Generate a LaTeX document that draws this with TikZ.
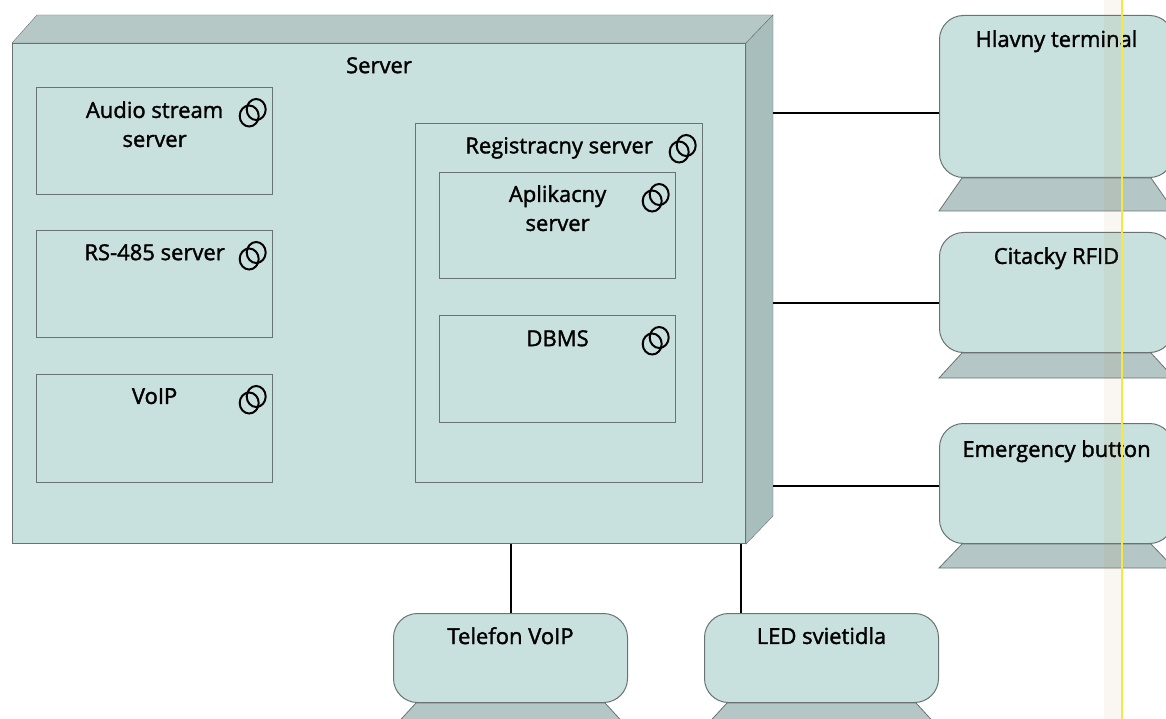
\documentclass[tikz,border=0pt]{standalone}
\usepackage{fontspec}
\setmainfont{Open Sans}[FakeBold=1.6]
\usetikzlibrary{positioning,calc}

\definecolor{facefill}{RGB}{200,225,222}
\definecolor{topfill}{RGB}{182,200,198}
\definecolor{sidefill}{RGB}{168,190,188}
\definecolor{basefill}{RGB}{180,198,197}
\definecolor{edgegray}{RGB}{105,115,115}
\definecolor{scanyellow}{RGB}{245,232,70}

\begin{document}
\begin{tikzpicture}[x=1pt,y=-1pt,font=\fontsize{22}{29}\selectfont,
    lbl/.style={inner sep=0pt,align=center},
    comp/.style={draw=edgegray,line width=1.2pt,minimum width=236pt,minimum height=107pt,anchor=north west,inner sep=0pt},
    device/.style={draw=edgegray,line width=1pt,fill=facefill,rounded corners=24pt,minimum width=234pt,anchor=north west,inner sep=0pt},
    stand/.style={draw=edgegray,line width=0.8pt,fill=basefill},
    ring/.style={line width=2pt},
    wire/.style={line width=2pt}]
    \fill[white] (0,0) rectangle (1166,719);
    \useasboundingbox (0,0) rectangle (1166,719);

    % server node with its 3d faces
    \node[draw=edgegray,line width=1pt,fill=facefill,minimum width=733pt,minimum height=500pt,anchor=north west,inner sep=0pt] (server) at (12,43) {};
    \filldraw[draw=edgegray,fill=topfill] (server.north west) -- ++(25,-28) -- ($(server.north east)+(27,-28)$) -- (server.north east) -- cycle;
    \filldraw[draw=edgegray,fill=sidefill] (server.north east) -- ++(27,-28) -- ($(server.south east)+(27,-28)$) -- (server.south east) -- cycle;
    \coordinate (rim) at ($(server.east)+(27,0)$);
    \node[lbl,below=14pt of server.north] {Server};

    % components
    \node[comp] (audio) at (36,87) {};
    \node[comp] (rs) at (36,230) {};
    \node[comp,minimum height=108pt] (voip) at (36,374) {};
    \node[comp,minimum width=287pt,minimum height=359pt] (reg) at (415,123) {};
    \node[comp,minimum height=106pt] (aplik) at (439,172) {};
    \node[comp] (dbms) at (439,315) {};
    \node[lbl,below=14pt of audio.north] {Audio stream\\server};
    \node[lbl,below=14pt of rs.north] {RS-485 server};
    \node[lbl,below=14pt of voip.north] {VoIP};
    \node[lbl,below=14pt of reg.north] {Registracny server};
    \node[lbl,below=13pt of aplik.north] {Aplikacny\\server};
    \node[lbl,below=15pt of dbms.north] {DBMS};
    \foreach \c in {audio,rs,voip,reg,aplik,dbms} {
        \draw[ring] ($(\c.north east)+(-17,22.5)$) ellipse [x radius=9.5,y radius=10.5];
        \draw[ring] ($(\c.north east)+(-24,29)$) ellipse [x radius=9.5,y radius=10.5];
    }

    % terminals
    \node[device,minimum height=162pt] (hlavny) at (939,15) {};
    \node[device,minimum height=120pt] (citacky) at (939,232) {};
    \node[device,minimum height=120pt] (emergency) at (939,423) {};
    \node[device,minimum height=89pt] (telefon) at (393,613) {};
    \node[device,minimum height=89pt] (led) at (704,613) {};
    \foreach \d/\h in {hlavny/33pt,citacky/25pt,emergency/24pt,telefon/25pt,led/25pt}
        \filldraw[stand] ([xshift=23pt]\d.south west) -- ([xshift=-23pt]\d.south east)
            -- ([yshift=-\h]\d.south east) -- ([yshift=-\h]\d.south west) -- cycle;
    \node[lbl,below=15pt of hlavny.north] {Hlavny terminal};
    \node[lbl,below=15pt of citacky.north] {Citacky RFID};
    \node[lbl,below=17pt of emergency.north] {Emergency button};
    \node[lbl,below=14pt of telefon.north] {Telefon VoIP};
    \node[lbl,below=14pt of led.north] {LED svietidla};

    % links
    \coordinate (hlavnyport) at ($(hlavny.west)+(0,17)$);
    \coordinate (citackyport) at ($(citacky.west)+(0,10)$);
    \coordinate (emergencyport) at ($(emergency.west)+(0,2)$);
    \coordinate (ledport) at ($(led.north)+(-81,0)$);
    \draw[wire] (hlavnyport) -- (hlavnyport -| rim);
    \draw[wire] (citackyport) -- (citackyport -| rim);
    \draw[wire] (emergencyport) -- (emergencyport -| rim);
    \draw[wire] (telefon.north) -- (telefon.north |- server.south);
    \draw[wire] (ledport) -- (ledport |- server.south);

    % scan mark at the right
    \fill[brown,opacity=0.07] (1104,0) rectangle (1121,719);
    \draw[scanyellow,line width=2.5pt] (1122,0) -- (1122,719);
\end{tikzpicture}
\end{document}
